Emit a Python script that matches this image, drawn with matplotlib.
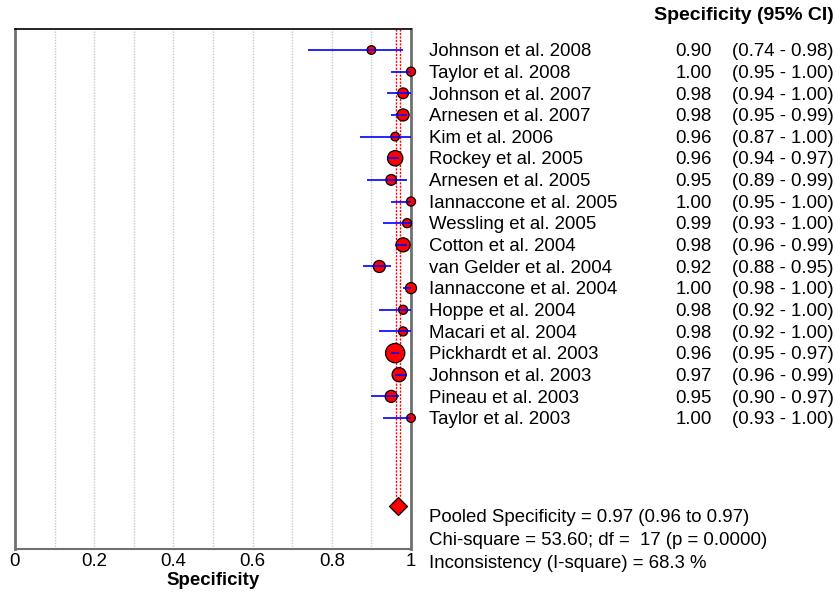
import matplotlib
matplotlib.use('Agg')
import matplotlib.pyplot as plt
import matplotlib.transforms as mtransforms
import numpy as np

plt.rcParams['font.family'] = ['Liberation Sans', 'DejaVu Sans']

studies = ['Johnson et al. 2008', 'Taylor et al. 2008', 'Johnson et al. 2007',
           'Arnesen et al. 2007', 'Kim et al. 2006', 'Rockey et al. 2005',
           'Arnesen et al. 2005', 'Iannaccone et al. 2005', 'Wessling et al. 2005',
           'Cotton et al. 2004', 'van Gelder et al. 2004', 'Iannaccone et al. 2004',
           'Hoppe et al. 2004', 'Macari et al. 2004', 'Pickhardt et al. 2003',
           'Johnson et al. 2003', 'Pineau et al. 2003', 'Taylor et al. 2003']
spec = [0.90, 1.00, 0.98, 0.98, 0.96, 0.96, 0.95, 1.00, 0.99,
        0.98, 0.92, 1.00, 0.98, 0.98, 0.96, 0.97, 0.95, 1.00]
ci_low = [0.74, 0.95, 0.94, 0.95, 0.87, 0.94, 0.89, 0.95, 0.93,
          0.96, 0.88, 0.98, 0.92, 0.92, 0.95, 0.96, 0.90, 0.93]
ci_high = [0.98, 1.00, 1.00, 0.99, 1.00, 0.97, 0.99, 1.00, 1.00,
           0.99, 0.95, 1.00, 1.00, 1.00, 0.97, 0.99, 0.97, 1.00]
# relative study weights (%)
weights = [3.0, 3.3, 4.6, 5.8, 3.0, 9.4, 4.6, 3.3, 3.3,
           7.9, 5.8, 4.9, 3.3, 3.3, 14.9, 7.9, 5.8, 3.0]

pooled = 0.966
pooled_low = 0.962
pooled_high = 0.972
summary_lines = ['Pooled Specificity = 0.97 (0.96 to 0.97)',
                 'Chi-square = 53.60; df =  17 (p = 0.0000)',
                 'Inconsistency (I-square) = 68.3 %']
xticks = [0, 0.2, 0.4, 0.6, 0.8, 1]
xtick_labels = ['0', '0.2', '0.4', '0.6', '0.8', '1']

W, H = 837, 593
FS = 13.4
fig = plt.figure(figsize=(W / 100, H / 100), dpi=100)
ax = fig.add_axes([15 / W, 1 - 549 / H, 396 / W, 520 / H])

n = len(studies)
ypos = np.arange(n)
pooled_y = 21.06

# gridlines
for g in np.arange(0.1, 1.0, 0.1):
    ax.axvline(g, color='#c8c8c8', lw=1, ls=(0, (1, 1)), zorder=0)

# pooled CI lines
ax.vlines([pooled_low, pooled_high], -0.97, pooled_y - 0.35, color='red',
          lw=1, ls=(0, (1.5, 1)), zorder=1)

sizes = (5.0 * np.sqrt(weights) * 0.72) ** 2
ax.scatter(spec, ypos, s=sizes, color='red', edgecolor='black', linewidth=0.9,
           zorder=3, clip_on=False)
ax.hlines(ypos, ci_low, ci_high, color='#0000ff', lw=1.2, zorder=4)

ax.plot([pooled], [pooled_y], marker='D', ms=9.5, color='red',
        markeredgecolor='black', markeredgewidth=0.9, zorder=5)

ax.set_xlim(0, 1)
ax.set_ylim(23.05, -0.97)
ax.set_yticks([])
ax.set_xticks(xticks)
ax.set_xticklabels(xtick_labels, fontsize=FS)
ax.tick_params(axis='x', length=0, pad=3)
ax.set_xlabel('Specificity', fontsize=FS, fontweight='bold', labelpad=1)

ax.spines['left'].set_color('#707070')
ax.spines['left'].set_linewidth(2)
ax.spines['right'].set_color('#707070')
ax.spines['right'].set_linewidth(2)
ax.spines['bottom'].set_color('#707070')
ax.spines['bottom'].set_linewidth(1.5)
ax.spines['top'].set_color('black')
ax.spines['top'].set_linewidth(1.2)

# right side text table
tr = mtransforms.blended_transform_factory(fig.transFigure, ax.transData)
for i in range(n):
    y = ypos[i] + 0.08
    ax.text(429 / W, y, studies[i], transform=tr, fontsize=FS,
            va='center', ha='left', clip_on=False)
    ax.text(712 / W, y, f'{spec[i]:.2f}', transform=tr, fontsize=FS,
            va='center', ha='right', clip_on=False)
    ax.text(834 / W, y, f'({ci_low[i]:.2f} - {ci_high[i]:.2f})',
            transform=tr, fontsize=FS, va='center', ha='right', clip_on=False)

fig.text(834 / W, 1 - 15 / H, 'Specificity (95% CI)', fontsize=14,
         fontweight='bold', ha='right', va='center')
for k, line in enumerate(summary_lines):
    fig.text(429 / W, 1 - (518 + 22.5 * k) / H, line, fontsize=FS,
             ha='left', va='center')

fig.savefig('out.png', dpi=100)
